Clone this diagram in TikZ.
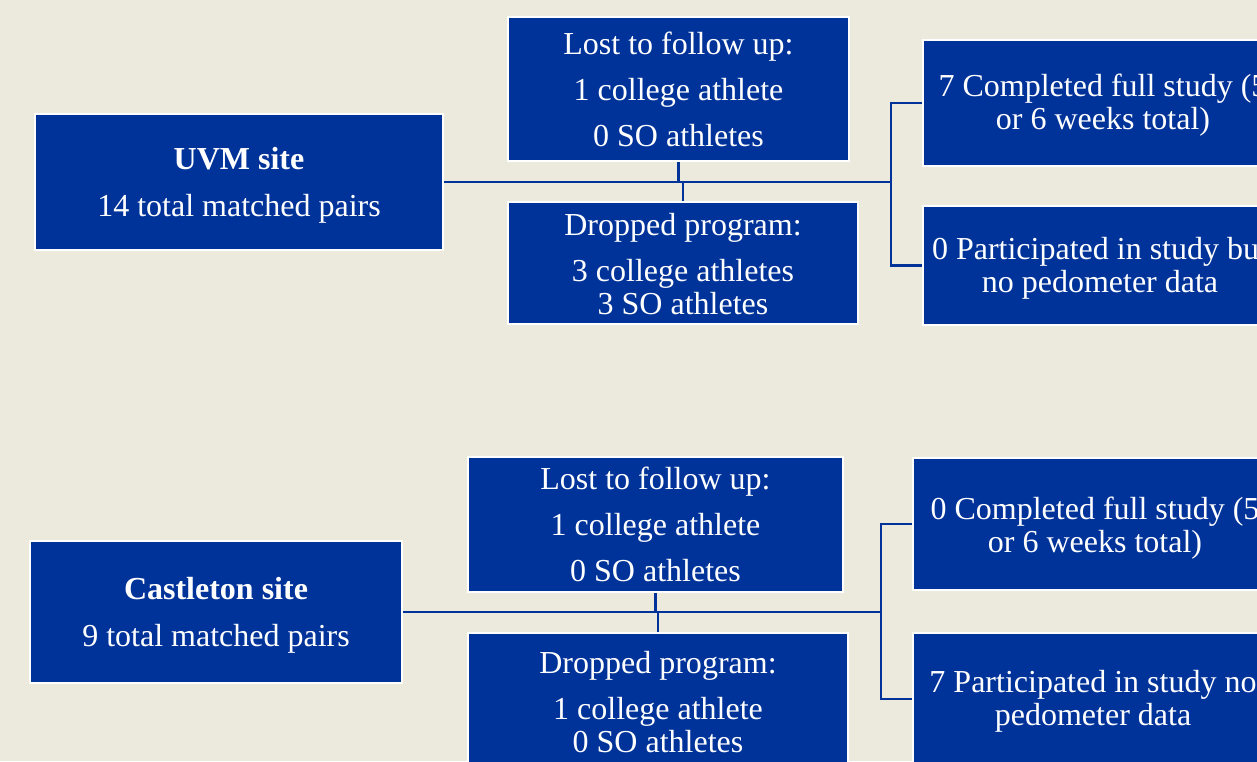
\documentclass[tikz,border=0pt]{standalone}
\usepackage{fontspec}
\setmainfont{Liberation Serif}
\definecolor{boxblue}{RGB}{0,51,153}
\definecolor{bgcream}{RGB}{236,234,220}
\newcommand{\topgap}[1]{\rule{0pt}{#1}}
\begin{document}
\begin{tikzpicture}[x=1pt,y=-1pt,
  flowbox/.style={rectangle, fill=boxblue, draw=white, line width=2pt, inner sep=0pt,
    text=white, align=center, font=\fontsize{32}{33}\selectfont},
  link/.style={draw=boxblue, line width=2.5pt}]
\useasboundingbox (0,0) rectangle (1257,761);
\fill[bgcream] (0,0) rectangle (1257,761);
\clip (0,0) rectangle (1257,761);

% UVM site
\node[flowbox, minimum width=408pt, minimum height=136pt] (uvm) at (239,182)
  {\topgap{28pt}\textbf{UVM site}\\[14pt]14 total matched pairs};
\node[flowbox, minimum width=341pt, minimum height=144pt] (lost1) at (678.5,89)
  {Lost to follow up:\\[13pt]1 college athlete\\[13pt]0 SO athletes};
\node[flowbox, minimum width=350pt, minimum height=122pt] (drop1) at (683,263)
  {\topgap{24pt}Dropped program:\\[13pt]3 college athletes\\3 SO athletes};
\node[flowbox, minimum width=360pt, minimum height=126pt] (done1) at (1103,103)
  {\topgap{27pt}7 Completed full study (5\\or 6 weeks total)};
\node[flowbox, minimum width=354pt, minimum height=119pt] (part1) at (1100,265.5)
  {\topgap{28pt}0 Participated in study but\\no pedometer data};

\coordinate (br1) at (891,182);
\draw[link] (uvm.east) -- (br1);
\draw[link] (lost1.south) -- (lost1.south |- br1);
\draw[link] (drop1.north) -- (drop1.north |- br1);
\draw[link] (done1.west) -| (br1) |- (part1.west);

% Castleton site
\node[flowbox, minimum width=372pt, minimum height=142pt] (cast) at (216,612)
  {\topgap{28pt}\textbf{Castleton site}\\[14pt]9 total matched pairs};
\node[flowbox, minimum width=375pt, minimum height=135pt] (lost2) at (655.5,524.5)
  {Lost to follow up:\\[13pt]1 college athlete\\[13pt]0 SO athletes};
\node[flowbox, minimum width=380pt, minimum height=137pt] (drop2) at (658,701.5)
  {\topgap{24pt}Dropped program:\\[13pt]1 college athlete\\0 SO athletes};
\node[flowbox, minimum width=364pt, minimum height=132pt] (done2) at (1095,524)
  {\topgap{30pt}0 Completed full study (5\\or 6 weeks total)};
\node[flowbox, minimum width=360pt, minimum height=132pt] (part2) at (1093,699)
  {\topgap{26pt}7 Participated in study no\\pedometer data};

\coordinate (br2) at (881,612);
\draw[link] (cast.east) -- (br2);
\draw[link] (lost2.south) -- (lost2.south |- br2);
\draw[link] (drop2.north) -- (drop2.north |- br2);
\draw[link] (done2.west) -| (br2) |- (part2.west);
\end{tikzpicture}
\end{document}
